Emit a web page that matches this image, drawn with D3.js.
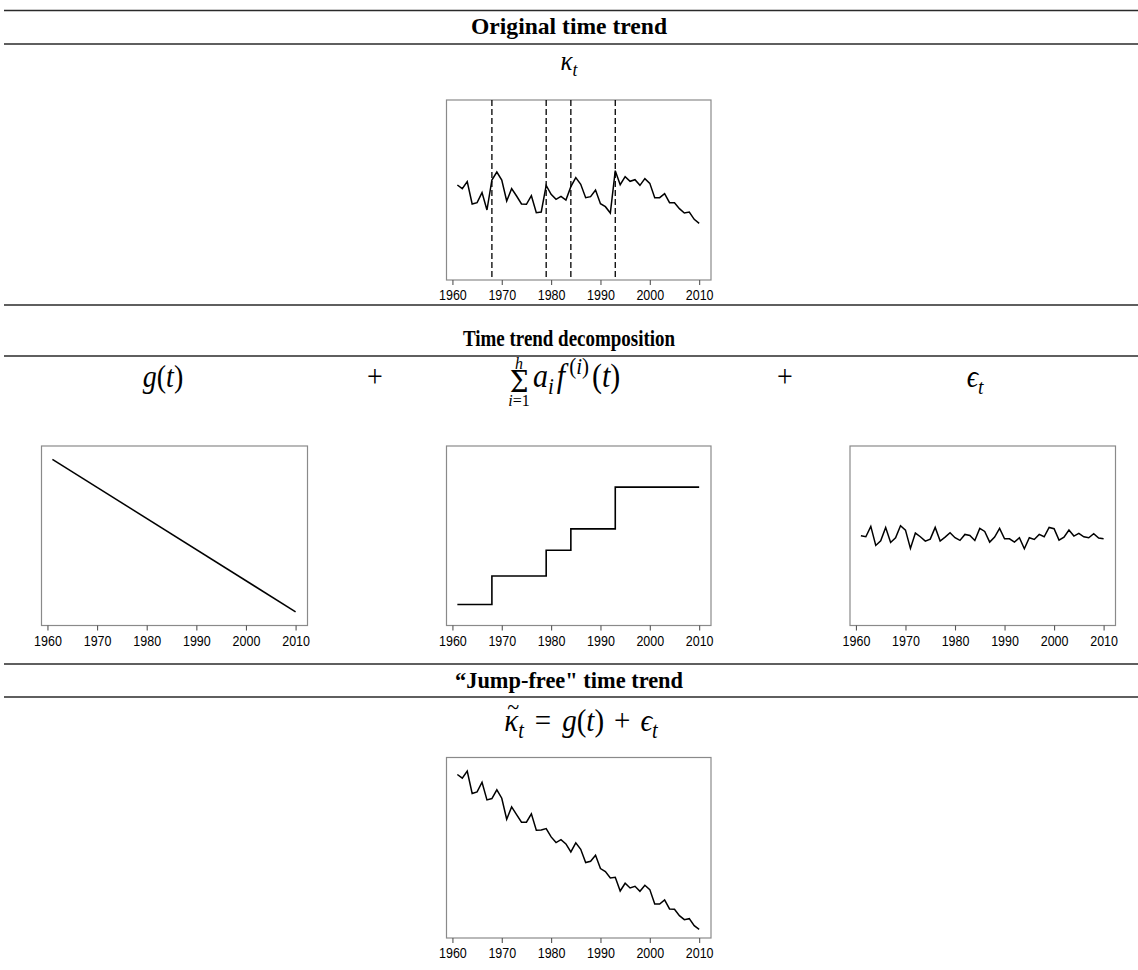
<!DOCTYPE html>
<html><head><meta charset="utf-8">
<script src="https://cdn.jsdelivr.net/npm/d3@7"></script>
<style>body{margin:0;background:#fff}</style>
</head><body>
<svg id="c" width="1138" height="970"></svg>
<script>
// ---------------- data ----------------
const years = [1961,1962,1963,1964,1965,1966,1967,1968,1969,1970,1971,1972,1973,1974,1975,1976,1977,1978,1979,1980,
  1981,1982,1983,1984,1985,1986,1987,1988,1989,1990,1991,1992,1993,1994,1995,1996,1997,1998,1999,2000,
  2001,2002,2003,2004,2005,2006,2007,2008,2009,2010];
const tickYears = [1960,1970,1980,1990,2000,2010];
const jumpYears = [1968,1979,1984,1993];

// original time trend kappa_t
const kappa = [1.5,0.4,2.5,-4.2,-3.8,-0.8,-6.0,3.0,5.4,3.0,-3.3,0.4,-1.8,-4.2,-4.3,-1.7,-6.8,-6.6,1.4,-1.3,
  -2.8,-1.9,-3.0,1.0,3.7,1.7,-2.3,-2.0,0.0,-4.1,-5.0,-6.9,5.8,1.6,4.0,2.6,3.1,1.4,3.4,2.0,
  -2.3,-2.3,-1.1,-3.8,-3.8,-5.6,-6.9,-6.6,-8.8,-10.0];
// linear trend g(t)
const gYears = [1961,2010];
const gValues = [22.85,-22.85];
// sum of jump functions (step levels)
const stepYears = [1961,1968,1979,1984,1993,2010];
const stepLevels = [0,8.5,16.2,22.6,35.1,35.1];
// residual epsilon_t
const eps = [0.3,0.0,3.1,-2.6,-1.2,2.8,-1.7,-0.3,3.3,2.0,-3.5,1.1,0.0,-1.3,-0.7,2.8,-1.3,-0.1,1.2,-0.3,
  -1.1,0.7,0.4,-1.1,2.5,1.6,-1.6,-0.1,2.5,-0.6,-0.6,-1.6,-0.3,-3.6,-0.3,-0.8,0.7,0.0,2.8,2.4,
  -1.0,-0.1,2.0,0.2,1.0,0.0,-0.3,0.9,-0.4,-0.6];
// jump-free trend
const kappaTilde = [22.0,20.9,23.0,16.3,16.8,19.7,14.4,14.8,17.4,14.9,8.6,12.3,10.0,7.7,7.7,10.2,5.3,5.4,5.8,3.3,
  1.6,2.5,1.2,-1.2,1.5,-0.4,-4.4,-4.0,-2.2,-6.2,-7.1,-9.0,-8.8,-12.9,-10.6,-12.0,-11.5,-13.0,-11.2,-12.5,
  -16.8,-16.8,-15.6,-18.3,-18.4,-20.3,-21.5,-21.2,-23.3,-24.4];

const sectionTitles = ["Original time trend","Time trend decomposition","\u201CJump-free\" time trend"];
const xDomain = [1958.8, 2012.4];

// ---------------- drawing ----------------
const svg = d3.select("#c");
const SY = 1.1;
const serif = "'Liberation Serif','DejaVu Serif',serif";
const sans = "'Liberation Sans',Arial,sans-serif";

// horizontal rules
[10.5, 44, 305, 356, 664, 697].forEach(y => {
  svg.append("line").attr("x1",4).attr("x2",1138).attr("y1",y).attr("y2",y)
    .attr("stroke","#2a2a2a").attr("stroke-width",1.3);
});

// section titles
const titlePos = [{y:34, w:196},{y:346, w:212},{y:688, w:228}];
sectionTitles.forEach((t,i) => {
  svg.append("text").attr("transform",`translate(569,${titlePos[i].y}) scale(1,${SY})`)
    .attr("text-anchor","middle").attr("font-family",serif).attr("font-weight","bold")
    .attr("font-size",21).attr("textLength",titlePos[i].w).attr("lengthAdjust","spacingAndGlyphs")
    .attr("fill","#000").text(t);
});

function mathText(x, y, anchor, size, parts, family) {
  const t = svg.append("text").attr("transform",`translate(${x},${y}) scale(1,${SY})`)
    .attr("text-anchor",anchor).attr("font-family",family || serif).attr("font-size",size).attr("fill","#000");
  let cur = 0;
  const spans = [];
  parts.forEach(p => {
    const ts = t.append("tspan").text(p.t)
      .attr("font-style", p.up ? "normal" : "italic")
      .attr("font-size", p.fs ? p.fs : ((p.sub||p.sup) ? size*0.7 : size));
    if (p.ff) ts.attr("font-family", p.ff);
    if (p.absY !== undefined) {
      ts.attr("x", 0).attr("y", p.absY);
      cur = 0;
    } else {
      const off = p.sub ? size*0.22 : p.sup ? -size*0.38 : (p.raise ? -p.raise : 0);
      ts.attr("dy", off - cur);
      cur = off;
    }
    if (p.dx) ts.attr("dx", p.dx);
    spans.push(ts);
  });
  t.spans = spans;
  return t;
}

// kappa_t
mathText(569, 70, "middle", 25, [{t:"\u03BA"},{t:"t",sub:true}]);
// decomposition row
const rowY = 387;
mathText(163, rowY, "middle", 28, [{t:"g"},{t:"(",up:true},{t:"t"},{t:")",up:true}]);
mathText(375, rowY, "middle", 28, [{t:"+",up:true}]);
mathText(785, rowY, "middle", 28, [{t:"+",up:true}]);
mathText(975, rowY, "middle", 28, [{t:"\u03F5"},{t:"t",sub:true}]);

// sum with limits: size sigma from its measured ink height
const sigFamily = "'DejaVu Serif'";
const ctx = document.createElement("canvas").getContext("2d");
ctx.font = "100px " + sigFamily;
const mS = ctx.measureText("\u03A3");
const inkS = (mS.actualBoundingBoxAscent + mS.actualBoundingBoxDescent) || 73;
const sigFs = 100 * (21 / SY) / inkS;
const sigBase = 392 - (mS.actualBoundingBoxDescent || 0) * sigFs / 100 * SY;
mathText(519, sigBase, "middle", sigFs, [
  {t:"h", fs:16, ff:serif, absY:(368.5 - sigBase)/SY},
  {t:"\u03A3", up:true, ff:sigFamily, absY:0},
  {t:"i", fs:16, ff:serif, absY:(406 - sigBase)/SY},
  {t:"=1", up:true, fs:16, ff:serif}
]);
mathText(533, rowY, "start", 30, [{t:"a"},{t:"i",sub:true},{t:"f",dx:3},{t:"(",up:true,sup:true,dx:4},{t:"i",sup:true},{t:")",up:true,sup:true},{t:"(",up:true,dx:3},{t:"t"},{t:")",up:true}]);

// kappa tilde formula (tilde as part of the same text)
const ktY = 731;
const kt = mathText(581, ktY, "middle", 29, [
  {t:"\u03BA"},{t:"~",up:true,raise:15,fs:22},{t:"t",sub:true},
  {t:"=",up:true,dx:11},{t:"g",dx:11},{t:"(",up:true},{t:"t"},{t:")",up:true},
  {t:"+",up:true,dx:10},{t:"\u03F5",dx:10},{t:"t",sub:true}]);
(function(){
  const wk = kt.spans[0].node().getComputedTextLength();
  const wt = kt.spans[1].node().getComputedTextLength();
  kt.spans[1].attr("dx", -(wk + wt)/2 + 2);
  kt.spans[2].attr("dx", (wk - wt)/2 - 2);
})();

// panels
const panels = [
  {x:446.5, y:100, w:264.5, h:180, dom:[-27,27]},
  {x:41.5, y:446, w:266, h:179.5, dom:[-26.95,26.85]},
  {x:446.5, y:446, w:264.5, h:179.5, dom:[-6.3,47.4]},
  {x:850, y:446, w:265.5, h:179.5, dom:[-26.6,27.2]},
  {x:446.5, y:757.5, w:264.5, h:180.5, dom:[-27.0,27.1]}
];

function makePanel(p) {
  const x = d3.scaleLinear().domain(xDomain).range([p.x, p.x+p.w]);
  const y = d3.scaleLinear().domain(p.dom).range([p.y+p.h, p.y]);
  svg.append("rect").attr("x",p.x).attr("y",p.y).attr("width",p.w).attr("height",p.h)
    .attr("fill","none").attr("stroke","#8a8a8a").attr("stroke-width",1.2);
  const ax = svg.append("g").attr("transform",`translate(0,${p.y+p.h})`)
    .call(d3.axisBottom(x).tickValues(tickYears).tickFormat(d3.format("d")).tickSize(5).tickSizeOuter(0));
  ax.select(".domain").remove();
  ax.selectAll(".tick line").attr("stroke","#555").attr("stroke-width",1.1);
  ax.selectAll(".tick text").attr("dy",null).attr("y",20.5/SY)
    .attr("transform",`scale(1,${SY})`).attr("font-family",sans).attr("font-size",12.5).attr("fill","#000");
  return {x,y};
}

const line = (sx, sy) => d3.line().x(d => sx(d[0])).y(d => sy(d[1]));

// panel 0: original
{
  const {x,y} = makePanel(panels[0]);
  jumpYears.forEach(j => svg.append("line").attr("x1",x(j)).attr("x2",x(j))
    .attr("y1",panels[0].y).attr("y2",panels[0].y+panels[0].h)
    .attr("stroke","#000").attr("stroke-width",1.3).attr("stroke-dasharray","6,3"));
  svg.append("path").datum(d3.zip(years,kappa)).attr("d",line(x,y))
    .attr("fill","none").attr("stroke","#000").attr("stroke-width",1.5);
}
// panel 1: g(t)
{
  const {x,y} = makePanel(panels[1]);
  svg.append("path").datum(d3.zip(gYears,gValues)).attr("d",line(x,y))
    .attr("fill","none").attr("stroke","#000").attr("stroke-width",1.5);
}
// panel 2: steps
{
  const {x,y} = makePanel(panels[2]);
  svg.append("path").datum(d3.zip(stepYears,stepLevels)).attr("d",line(x,y).curve(d3.curveStepAfter))
    .attr("fill","none").attr("stroke","#000").attr("stroke-width",1.6);
}
// panel 3: eps
{
  const {x,y} = makePanel(panels[3]);
  svg.append("path").datum(d3.zip(years,eps)).attr("d",line(x,y))
    .attr("fill","none").attr("stroke","#000").attr("stroke-width",1.5);
}
// panel 4: kappa tilde
{
  const {x,y} = makePanel(panels[4]);
  svg.append("path").datum(d3.zip(years,kappaTilde)).attr("d",line(x,y))
    .attr("fill","none").attr("stroke","#000").attr("stroke-width",1.5);
}
</script>
</body></html>
